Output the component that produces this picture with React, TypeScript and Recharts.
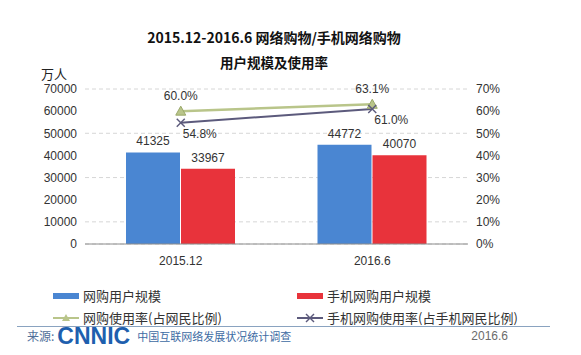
import { Bar, CartesianGrid, ComposedChart, LabelList, Line, XAxis, YAxis } from "recharts"

const periods = ["2015.12", "2016.6"]
const shopUsers = [41325, 44772]
const mobileShopUsers = [33967, 40070]
const shopRate = [60.0, 63.1]
const mobileShopRate = [54.8, 61.0]
const leftTicks = [0, 10000, 20000, 30000, 40000, 50000, 60000, 70000]
const rightTicks = [0, 10, 20, 30, 40, 50, 60, 70]

const data = periods.map((period, i) => ({
  period,
  shopUsers: shopUsers[i],
  mobileShopUsers: mobileShopUsers[i],
  shopRate: shopRate[i],
  mobileShopRate: mobileShopRate[i],
}))

const FONT = '"Liberation Sans", Arial, "Noto Sans CJK SC", sans-serif'
const CJK = '"Noto Sans CJK SC", "Liberation Sans", sans-serif'
const BLUE = "#4a86d2"
const RED = "#e8333b"
const GREEN = "#b9c58a"
const PURPLE = "#5c5a7c"

const TriangleDot = (props: any) => {
  const { cx, cy } = props
  if (cx == null || cy == null) return null
  return <path d={`M${cx},${cy - 5} L${cx + 5},${cy + 4} L${cx - 5},${cy + 4} Z`} fill={GREEN} stroke="#9aa86a" strokeWidth={1} />
}

const CrossDot = (props: any) => {
  const { cx, cy } = props
  if (cx == null || cy == null) return null
  return (
    <g stroke={PURPLE} strokeWidth={1.5}>
      <line x1={cx - 4} y1={cy - 4} x2={cx + 4} y2={cy + 4} />
      <line x1={cx - 4} y1={cy + 4} x2={cx + 4} y2={cy - 4} />
    </g>
  )
}

const pct = (v: any) => `${Number(v).toFixed(1)}%`

const MobileRateLabel = (props: any) => {
  const { x, y, value } = props
  return (
    <text x={x + 19} y={y + 11} textAnchor="middle" dominantBaseline="central" fontSize={12} fill="#333" fontFamily={FONT}>
      {pct(value)}
    </text>
  )
}

const legendRow = (color: string, label: string, kind: "bar" | "tri" | "cross") => (
  <div style={{ display: "flex", alignItems: "center", whiteSpace: "nowrap" }}>
    <svg width={28} height={12} style={{ marginRight: 3 }}>
      {kind === "bar" && <rect x={1} y={3} width={26} height={6} fill={color} />}
      {kind !== "bar" && <line x1={1} y1={6} x2={27} y2={6} stroke={color} strokeWidth={2} />}
      {kind === "tri" && <path d="M14,2 L18,9 L10,9 Z" fill={color} />}
      {kind === "cross" && (
        <g stroke={color} strokeWidth={1.5}>
          <line x1={10} y1={2} x2={18} y2={10} />
          <line x1={10} y1={10} x2={18} y2={2} />
        </g>
      )}
    </svg>
    <span>{label}</span>
  </div>
)

export default function App() {
  return (
    <div style={{ position: "absolute", left: 0, top: 0, width: 581, height: 355, background: "#fff", fontFamily: CJK, color: "#333", overflow: "hidden" }}>
      <div style={{ position: "absolute", left: 0, width: 548, top: 27, textAlign: "center", fontSize: 14, fontWeight: 700, color: "#111", lineHeight: "20px" }}>
        2015.12-2016.6 网络购物/手机网络购物
      </div>
      <div style={{ position: "absolute", left: 0, width: 548, top: 52, textAlign: "center", fontSize: 13.5, fontWeight: 700, color: "#111", lineHeight: "20px" }}>
        用户规模及使用率
      </div>
      <div style={{ position: "absolute", left: 41, top: 64, fontSize: 13, color: "#222" }}>万人</div>

      <div style={{ position: "absolute", left: 0, top: 0 }}>
        <ComposedChart width={581} height={280} data={data} margin={{ top: 89, right: 73, left: 0, bottom: 0 }} barGap={1} barSize={54}>
          <CartesianGrid vertical={false} stroke="#d6d6d6" strokeDasharray="4 3" yAxisId="left" />
          <XAxis
            dataKey="period"
            axisLine={{ stroke: "#8c8c8c" }}
            tickLine={false}
            tickMargin={6}
            height={36}
            tick={{ fill: "#333", fontSize: 12, fontFamily: FONT }}
          />
          <YAxis
            yAxisId="left"
            width={85}
            domain={[0, 70000]}
            ticks={leftTicks}
            axisLine={false}
            tickLine={false}
            tick={{ fill: "#333", fontSize: 12, fontFamily: FONT }}
          />
          <YAxis
            yAxisId="right"
            orientation="right"
            width={40}
            domain={[0, 70]}
            ticks={rightTicks}
            axisLine={false}
            tickLine={false}
            tickFormatter={(v) => `${v}%`}
            tick={{ fill: "#333", fontSize: 12, fontFamily: FONT }}
          />
          <Bar yAxisId="left" dataKey="shopUsers" fill={BLUE} isAnimationActive={false}>
            <LabelList dataKey="shopUsers" position="top" offset={7} fill="#333" fontSize={12} fontFamily={FONT} />
          </Bar>
          <Bar yAxisId="left" dataKey="mobileShopUsers" fill={RED} isAnimationActive={false}>
            <LabelList dataKey="mobileShopUsers" position="top" offset={7} fill="#333" fontSize={12} fontFamily={FONT} />
          </Bar>
          <Line yAxisId="right" dataKey="shopRate" stroke={GREEN} strokeWidth={2.5} dot={<TriangleDot />} isAnimationActive={false}>
            <LabelList dataKey="shopRate" position="top" offset={11} fill="#333" fontSize={12} fontFamily={FONT} formatter={pct} />
          </Line>
          <Line yAxisId="right" dataKey="mobileShopRate" stroke={PURPLE} strokeWidth={2} dot={<CrossDot />} isAnimationActive={false}>
            <LabelList dataKey="mobileShopRate" content={<MobileRateLabel />} />
          </Line>
        </ComposedChart>
      </div>

      <div style={{ position: "absolute", left: 52, top: 287, fontSize: 13, lineHeight: "18px" }}>{legendRow(BLUE, "网购用户规模", "bar")}</div>
      <div style={{ position: "absolute", left: 296, top: 287, fontSize: 13, lineHeight: "18px" }}>{legendRow(RED, "手机网购用户规模", "bar")}</div>
      <div style={{ position: "absolute", left: 52, top: 309, fontSize: 13, lineHeight: "18px" }}>{legendRow(GREEN, "网购使用率(占网民比例)", "tri")}</div>
      <div style={{ position: "absolute", left: 296, top: 309, fontSize: 13, lineHeight: "18px" }}>{legendRow(PURPLE, "手机网购使用率(占手机网民比例)", "cross")}</div>

      <div style={{ position: "absolute", left: 17, width: 533, top: 326, borderTop: "1px solid #8aa3c0" }} />
      <div style={{ position: "absolute", left: 27, top: 326, height: 20, display: "flex", alignItems: "center", whiteSpace: "nowrap" }}>
        <span style={{ fontSize: 12, color: "#4f6f9a", lineHeight: "20px" }}>来源:</span>
        <span style={{ fontFamily: FONT, fontSize: 23, fontWeight: 900, color: "#1e5fae", marginLeft: 3, lineHeight: "20px" }}>CNNIC</span>
        <span style={{ fontSize: 11, color: "#3d6ba3", marginLeft: 7, lineHeight: "20px" }}>中国互联网络发展状况统计调查</span>
      </div>
      <div style={{ position: "absolute", left: 460, width: 48, top: 326, lineHeight: "20px", textAlign: "right", fontSize: 12, color: "#6b6b6b", fontFamily: FONT }}>2016.6</div>
    </div>
  )
}
